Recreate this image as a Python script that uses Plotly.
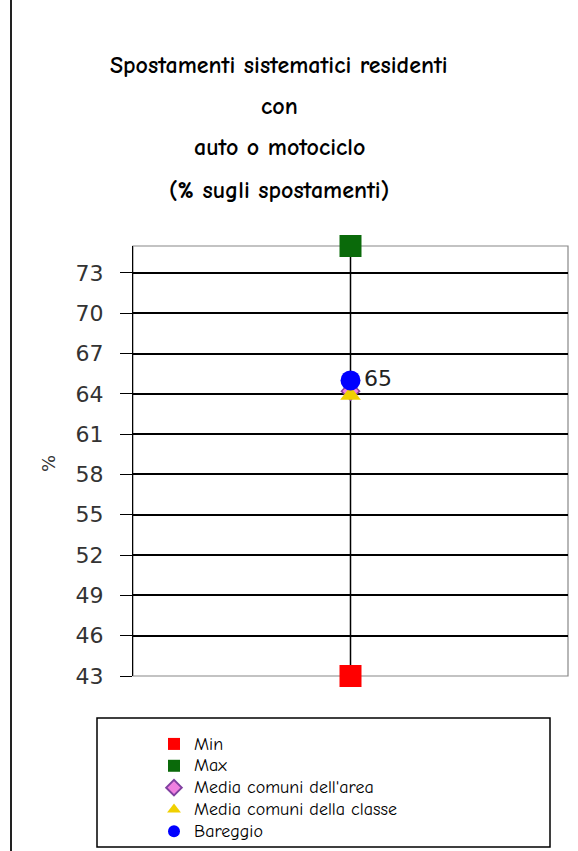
import plotly.graph_objects as go

# Single-category range chart: commuting share by car or motorcycle
category = ["Bareggio"]
min_values = [43]
max_values = [75]
area_mean = [64.2]
class_mean = [63.9]
town_values = [65]

series_names = ["Min", "Max", "Media comuni dell'area", "Media comuni della classe", "Bareggio"]
title_lines = ["Spostamenti sistematici residenti", "con", "auto o motociclo", "(% sugli spostamenti)"]
y_ticks = [43, 46, 49, 52, 55, 58, 61, 64, 67, 70, 73]

TITLE_FONT = "Comic Sans MS, Comic Neue, DejaVu Sans, sans-serif"
AXIS_FONT = "DejaVu Sans, Verdana, sans-serif"


def legend_label(name):
    # slightly larger glyphs than the legend's base size, keeping rows tight
    return '<span style="font-size:18px">' + name + "</span>"


fig = go.Figure()

# High-low connector between min and max
fig.add_trace(go.Scatter(
    x=category * 2, y=[min_values[0], max_values[0]], mode="lines",
    line=dict(color="black", width=1.5), showlegend=False, hoverinfo="skip",
    cliponaxis=False))

fig.add_trace(go.Scatter(
    x=category, y=min_values, name=legend_label(series_names[0]), mode="markers",
    marker=dict(symbol="square", size=22, color="#ff0000"), cliponaxis=False))
fig.add_trace(go.Scatter(
    x=category, y=max_values, name=legend_label(series_names[1]), mode="markers",
    marker=dict(symbol="square", size=22, color="#0a6a0a"), cliponaxis=False))
fig.add_trace(go.Scatter(
    x=category, y=area_mean, name=legend_label(series_names[2]), mode="markers",
    marker=dict(symbol="diamond", size=14, color="#f080e0",
                line=dict(color="#8040a0", width=1.5)), cliponaxis=False))
fig.add_trace(go.Scatter(
    x=category, y=class_mean, name=legend_label(series_names[3]), mode="markers",
    marker=dict(symbol="triangle-up", size=18, color="#f0d000"), cliponaxis=False))
fig.add_trace(go.Scatter(
    x=category, y=town_values, name=legend_label(series_names[4]), mode="markers+text",
    marker=dict(symbol="circle", size=20, color="#0000ff"),
    text=[str(v) for v in town_values], textposition="middle right",
    textfont=dict(family=AXIS_FONT, size=22, color="#222222"), cliponaxis=False))

# Plot area: 133..568 px horizontally, 246..676 px vertically
L, T, W, H = 133, 246, 435, 430

def px_y(y):
    return (T + H - y) / H

def px_x(x):
    return (x - L) / W

annotations = []
for line, ypx in zip(title_lines, [65, 106, 147, 190]):
    annotations.append(dict(
        text="<b>" + line + "</b>", xref="paper", yref="paper", x=px_x(279), y=px_y(ypx),
        showarrow=False, xanchor="center", yanchor="middle",
        font=dict(family=TITLE_FONT, size=24, color="black")))
annotations.append(dict(
    text="%", xref="paper", yref="paper", x=px_x(48), y=px_y(464),
    showarrow=False, textangle=-90, xanchor="center", yanchor="middle",
    font=dict(family=AXIS_FONT, size=18, color="#333333")))

shapes = [
    # plot frame
    dict(type="rect", xref="paper", yref="paper", x0=0, x1=1, y0=0, y1=1,
         line=dict(color="#888888", width=1.2), layer="below"),
    # page rule on the left edge
    dict(type="line", xref="paper", yref="paper",
         x0=px_x(11), x1=px_x(11), y0=px_y(0), y1=px_y(851),
         line=dict(color="#222222", width=2)),
    # legend frame
    dict(type="rect", xref="paper", yref="paper",
         x0=px_x(97), x1=px_x(550), y0=px_y(718), y1=px_y(847),
         line=dict(color="black", width=1.5)),
]

fig.update_layout(
    width=578, height=851,
    margin=dict(l=L, r=578 - L - W, t=T, b=851 - T - H, autoexpand=False),
    paper_bgcolor="white", plot_bgcolor="white",
    showlegend=True,
    legend=dict(
        x=px_x(154), y=px_y(728), xanchor="left", yanchor="top",
        bgcolor="rgba(0,0,0,0)", borderwidth=0,
        font=dict(family=TITLE_FONT, size=14.5, color="black"),
        tracegroupgap=0, itemsizing="constant"),
    annotations=annotations,
    shapes=shapes,
    xaxis=dict(type="category", showgrid=False, showticklabels=False,
               zeroline=False, showline=False, ticks=""),
    yaxis=dict(range=[43, 75], tickvals=y_ticks, showgrid=True,
               gridcolor="black", gridwidth=1.6, zeroline=False,
               showline=True, linecolor="black", linewidth=1.2,
               ticks="outside", ticklen=12, tickcolor="black", tickwidth=1.3,
               ticklabelstandoff=12,
               tickfont=dict(family=AXIS_FONT, size=22, color="#333333")),
)

fig.write_html("out.html")
